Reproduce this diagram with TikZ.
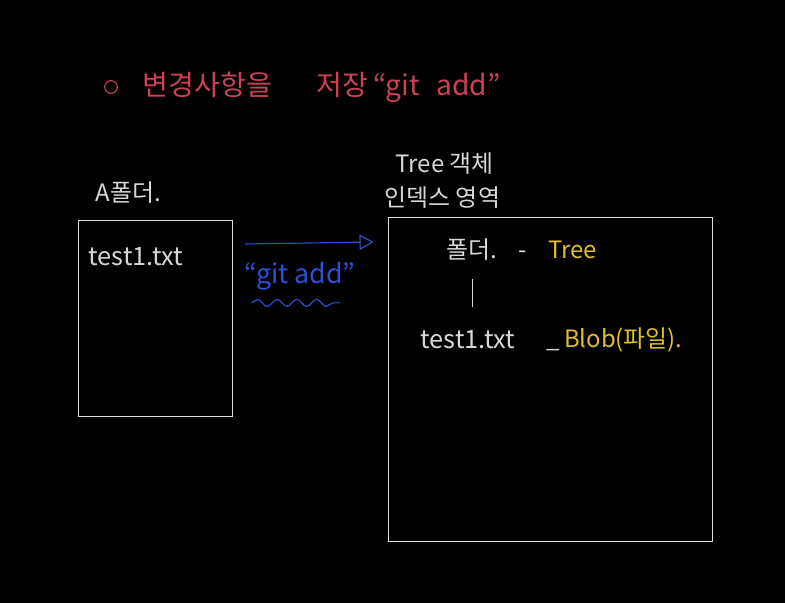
\documentclass[tikz,border=0pt]{standalone}
\usepackage{fontspec}
\setmainfont{Noto Sans CJK KR}
\usetikzlibrary{arrows.meta,positioning,decorations.pathmorphing}
\definecolor{penred}{RGB}{205,65,85}
\definecolor{penwhite}{RGB}{215,215,215}
\definecolor{penblue}{RGB}{45,80,215}
\definecolor{penyellow}{RGB}{225,190,45}

\begin{document}
\begin{tikzpicture}[
        x=0.025cm, y=-0.025cm,
        box/.style={draw=penwhite!80, line width=0.5pt},
        txt/.style={text=penwhite, font=\fontsize{17}{19}\selectfont, inner sep=1pt},
        hi/.style={text=penyellow, font=\fontsize{17}{19}\selectfont, inner sep=1pt},
        arrow/.style={draw=penblue, line width=0.8pt, -{Triangle[open, round, length=10pt, width=11pt]}}
    ]
    % --- Nền ---
    \fill[black] (0,0) rectangle (785,603);
    \useasboundingbox (0,0) rectangle (785,603);

    % --- Tiêu đề ---
    \node (bullet) [draw=penred, circle, line width=0.8pt, minimum size=9pt, inner sep=0pt] at (111,87) {};
    \node (title) [right=14pt of bullet, anchor=west, text=penred, font=\fontsize{20}{23}\selectfont] {변경사항을\hspace{1.6em}저장\,“git\hspace{0.6em}add”};

    % --- Phần trái: A폴더 ---
    \node (afolder) [txt, anchor=west] at (94,193) {A폴더.};
    \draw[box] (78,220) rectangle (232,416);
    \node (afile) [txt, font=\fontsize{18}{20}\selectfont, anchor=west] at (87,257) {test1.txt};

    % --- Mũi tên git add ---
    \coordinate (arrstart) at (245,244);
    \coordinate (arrend) at (373,242);
    \draw[arrow] (arrstart) -- (arrend);
    \node (gitadd) [text=penblue, font=\fontsize{19}{22}\selectfont, inner sep=1pt] at (300,276) {“git add”};
    \draw[penblue, line width=0.8pt, decorate, decoration={snake, amplitude=2.5pt, segment length=14pt}]
        ([xshift=6pt,yshift=-8pt]gitadd.south west) -- ([xshift=-12pt,yshift=-8pt]gitadd.south east);

    % --- Phần phải: vùng index ---
    \node (treeobj) [txt, anchor=west] at (394,164) {Tree 객체};
    \node (indexarea) [txt, anchor=west] at (383,198) {인덱스 영역};
    \draw[box] (388,217) rectangle (712,541);

    \node (folder) [txt] at (472,250) {폴더.};
    \node (treelbl) [hi, anchor=west] at (517,250) {{\color{penwhite}-}\hspace{0.9em}Tree};
    \node (bfile) [txt, font=\fontsize{18}{20}\selectfont, anchor=west] at (419,340) {test1.txt};
    \node (blob) [hi, anchor=west] at (545,340) {{\color{penwhite}\_}\,Blob(파일).};
    \draw[penwhite, line width=0.6pt] ([yshift=-12pt]folder.south) -- ([yshift=16pt]bfile.north -| folder.south);

\end{tikzpicture}
\end{document}
